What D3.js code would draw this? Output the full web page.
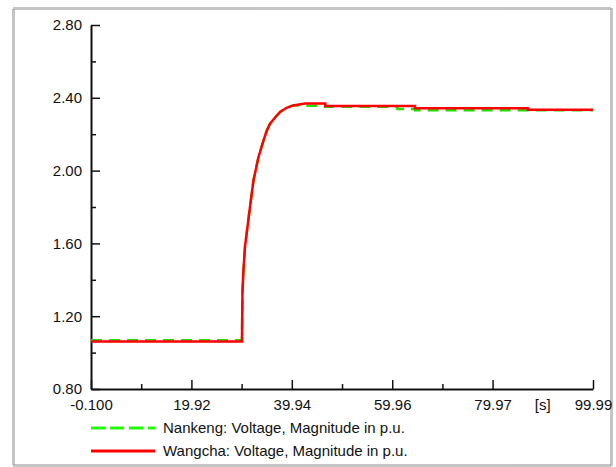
<!DOCTYPE html>
<html lang="en">
  <head>
    <meta charset="utf-8" />
    <title>Nankeng / Wangcha voltage</title>
    <script src="https://d3js.org/d3.v7.min.js"></script>
    <style>
      body { margin: 0; background: #fff; }
      svg text { font-family: "Liberation Sans", Arial, sans-serif; font-size: 15px; fill: #111; }
    </style>
  </head>
  <body>
    <div id="content"></div>
    <script>
      // time in seconds
      const time = [-0.1, 30.0, 30.1, 30.3, 30.6, 31.6, 32.3, 33.3, 34.3, 34.9, 35.6, 36.6, 37.6, 38.9, 40.2, 42.6, 46.6, 46.6, 61.0, 61.0, 64.5, 64.5, 87.0, 87.0, 99.99];
      const wangcha = [1.061, 1.061, 1.334, 1.453, 1.581, 1.800, 1.947, 2.075, 2.166, 2.216, 2.258, 2.292, 2.322, 2.345, 2.358, 2.368, 2.368, 2.355, 2.355, 2.355, 2.355, 2.342, 2.342, 2.335, 2.335];
      const nankeng = [1.068, 1.068, 1.334, 1.453, 1.581, 1.800, 1.947, 2.075, 2.166, 2.216, 2.258, 2.292, 2.322, 2.345, 2.358, 2.357, 2.357, 2.351, 2.351, 2.338, 2.338, 2.331, 2.331, 2.331, 2.331];

      const xMajor = [-0.1, 19.92, 39.94, 59.96, 79.97, 99.99];
      const xMinor = [9.91, 29.93, 49.95, 69.965];
      const xLabels = ["-0.100", "19.92", "39.94", "59.96", "79.97", "99.99"];
      const unitAt = 89.98;
      const yMajor = [0.8, 1.2, 1.6, 2.0, 2.4, 2.8];
      const yMinor = [1.0, 1.4, 1.8, 2.2, 2.6];

      const seriesNames = ["Nankeng: Voltage, Magnitude in p.u.", "Wangcha: Voltage, Magnitude in p.u."];

      const width = 616;
      const height = 467;

      const svg = d3.select("#content")
        .append("svg")
        .attr("width", width)
        .attr("height", height);

      // dotted frame
      svg.append("rect")
        .attr("x", 13.5)
        .attr("y", 8.5)
        .attr("width", 598)
        .attr("height", 457)
        .attr("fill", "none")
        .attr("stroke", "#8a8a8a")
        .attr("stroke-width", 3)
        .attr("stroke-dasharray", "1,1");

      const x = d3.scaleLinear().domain([-0.1, 99.99]).range([91, 593]);
      const y = d3.scaleLinear().domain([0.8, 2.8]).range([389, 25]);

      const xAxis = svg.append("g")
        .attr("transform", "translate(0,389)")
        .call(d3.axisBottom(x)
          .tickValues(xMajor)
          .tickFormat((d, i) => xLabels[i])
          .tickSizeInner(-9)
          .tickSizeOuter(0)
          .tickPadding(10));

      svg.append("g")
        .attr("transform", "translate(0,389)")
        .call(d3.axisBottom(x)
          .tickValues(xMinor)
          .tickFormat("")
          .tickSizeInner(-5)
          .tickSizeOuter(0))
        .select(".domain").remove();

      xAxis.append("text")
        .attr("x", x(unitAt))
        .attr("y", 10)
        .attr("dy", "0.71em")
        .attr("text-anchor", "middle")
        .text("[s]");

      svg.append("g")
        .attr("transform", "translate(91,0)")
        .call(d3.axisLeft(y)
          .tickValues(yMajor)
          .tickFormat(d3.format(".2f"))
          .tickSizeInner(-9)
          .tickSizeOuter(0)
          .tickPadding(9));

      svg.append("g")
        .attr("transform", "translate(91,0)")
        .call(d3.axisLeft(y)
          .tickValues(yMinor)
          .tickFormat("")
          .tickSizeInner(-5)
          .tickSizeOuter(0))
        .select(".domain").remove();

      svg.selectAll(".domain").attr("stroke", "#111").attr("stroke-width", 2);
      svg.selectAll(".tick line").attr("stroke", "#111").attr("stroke-width", 1.5);
      svg.selectAll(".tick text").attr("fill", "#111").style("font-size", "15px")
        .style("font-family", "'Liberation Sans', Arial, sans-serif");

      const line = (vals) => d3.line()
        .x((d, i) => x(time[i]))
        .y((d) => y(d))(vals);

      svg.append("path")
        .attr("d", line(nankeng))
        .attr("fill", "none")
        .attr("stroke", "#22dd00")
        .attr("stroke-width", 2.5)
        .attr("stroke-dasharray", "11,7");

      svg.append("path")
        .attr("d", line(wangcha))
        .attr("fill", "none")
        .attr("stroke", "#ff0000")
        .attr("stroke-width", 2.5);

      // legend
      const legend = svg.append("g");
      const legendY = [428, 451];
      legend.selectAll("line")
        .data(seriesNames)
        .join("line")
        .attr("x1", 91)
        .attr("x2", 155)
        .attr("y1", (d, i) => legendY[i])
        .attr("y2", (d, i) => legendY[i])
        .attr("stroke", (d, i) => (i === 0 ? "#22ff00" : "#ff0000"))
        .attr("stroke-width", 3)
        .attr("stroke-dasharray", (d, i) => (i === 0 ? "14,5" : null));

      legend.selectAll("text")
        .data(seriesNames)
        .join("text")
        .attr("x", 163)
        .attr("y", (d, i) => legendY[i] + 5)
        .text((d) => d);
    </script>
  </body>
</html>
